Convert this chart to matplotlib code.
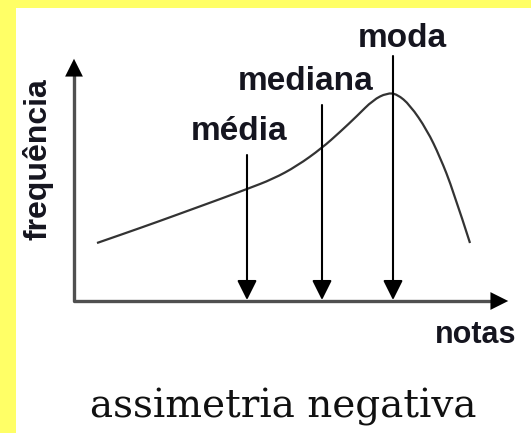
import matplotlib.pyplot as plt
from matplotlib.patches import Rectangle, PathPatch
from matplotlib.path import Path

# curve of a negatively skewed distribution (x = notas, y = frequência, pixel space)
curve_x = [97, 123, 157, 190, 223, 247, 273, 297, 322, 340, 357, 373, 387, 397, 410, 427, 440, 453, 470]
curve_y = [243, 234, 222, 210, 198, 189, 179, 166, 148, 132, 116, 100, 93, 94, 105, 130, 157, 190, 243]

# measures of central tendency: label, x position, arrow start, label baseline, label centre
stat_names = ['média', 'mediana', 'moda']
stat_x = [247, 322, 393]
stat_top = [155, 105, 56]
label_y = [140, 90, 47]
label_x = [239, 306, 402]

W, H = 531, 433
fig = plt.figure(figsize=(W / 100, H / 100), dpi=100)
ax = fig.add_axes([0, 0, 1, 1])
ax.set_xlim(0, W)
ax.set_ylim(H, 0)
ax.axis('off')

# yellow frame on the left and top
ax.add_patch(Rectangle((0, 0), 16, H, color='#ffff66', lw=0))
ax.add_patch(Rectangle((0, 0), W, 8, color='#ffff66', lw=0))

axis_col = '#505050'
# axes with arrows
ax.plot([74, 74, 500], [70, 301, 301], color=axis_col, lw=2.4, solid_capstyle='butt')
ax.annotate('', xy=(74, 56), xytext=(74, 90),
            arrowprops=dict(arrowstyle='-|>', color='black', lw=0, mutation_scale=32))
ax.annotate('', xy=(511, 301), xytext=(480, 301),
            arrowprops=dict(arrowstyle='-|>', color='black', lw=0, mutation_scale=32))

# smooth the measured points with a quadratic B-spline path
pts = list(zip(curve_x, curve_y))
verts = [pts[0]]
codes = [Path.MOVETO]
for i in range(1, len(pts) - 1):
    mid = ((pts[i][0] + pts[i + 1][0]) / 2, (pts[i][1] + pts[i + 1][1]) / 2)
    if i == len(pts) - 2:
        mid = pts[-1]
    verts += [pts[i], mid]
    codes += [Path.CURVE3, Path.CURVE3]
ax.add_patch(PathPatch(Path(verts, codes), fill=False, edgecolor='#333333', lw=1.6))

for name, x, top, ly, lx in zip(stat_names, stat_x, stat_top, label_y, label_x):
    ax.annotate('', xy=(x, 300), xytext=(x, top),
                arrowprops=dict(arrowstyle='-|>', color='black', lw=1.5,
                                mutation_scale=30, shrinkA=0, shrinkB=0))
    ax.text(lx, ly, name, ha='center', va='baseline', fontsize=24,
            fontweight='bold', family='Liberation Sans', color='#15151f')

ax.text(38, 159, 'frequência', rotation=90, ha='center', va='center', fontsize=23,
        fontweight='bold', family='Liberation Sans', color='#15151f')
ax.text(476, 343, 'notas', ha='center', va='baseline', fontsize=22,
        fontweight='bold', family='Liberation Sans', color='#15151f')
ax.text(283, 417, 'assimetria negativa', ha='center', va='baseline', fontsize=28,
        family='DejaVu Serif', color='#111111')

fig.savefig('out.png', dpi=100)
